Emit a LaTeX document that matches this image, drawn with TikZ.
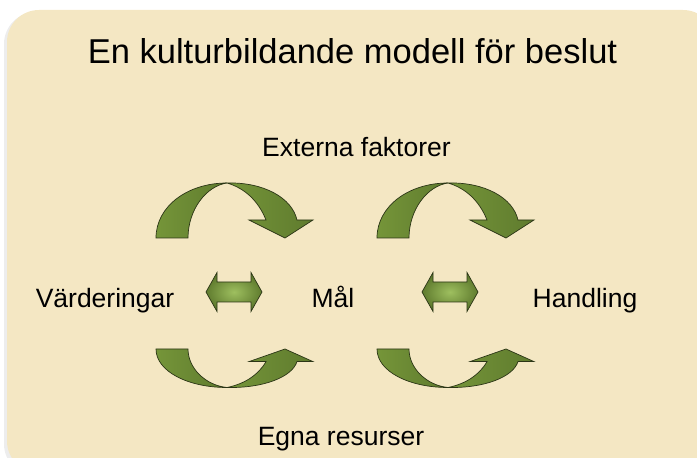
\documentclass[tikz,border=0pt]{standalone}
\usepackage{fontspec}
\setmainfont{Liberation Sans}

\definecolor{panelbg}{HTML}{F4E7C3}
\definecolor{leafdark}{HTML}{5F7B2E}
\definecolor{leafmid}{HTML}{759539}
\definecolor{leaflight}{HTML}{8DB443}
\definecolor{leafedge}{HTML}{2B3516}

\tikzset{
  label/.style={font=\fontsize{26.5}{30}\selectfont, anchor=base},
  bandleft/.style={draw=leafedge, line width=0.7pt, left color=leafmid, right color=leafdark},
  bandright/.style={draw=leafedge, line width=0.7pt, left color=leafmid, middle color=leaflight, right color=leafdark},
  linkfill/.style={draw=leafedge, line width=0.7pt, shading=radial, inner color=leaflight!85!white, outer color=leafdark},
  bendarrow/.pic={
    % back half of the bend
    \path[bandleft] (0,0) .. controls (0,32) and (32,55) .. (71,55)
        .. controls (50,52) and (32,28) .. (32,0) -- cycle;
    % front half with the head
    \path[bandright] (71,55) .. controls (108,56) and (136,40) .. (141,18)
        -- (157,18) -- (129,0) -- (93,18) -- (110,18)
        .. controls (102,38) and (88,50) .. (71,55) -- cycle;
  },
  linkarrow/.pic={
    \path[linkfill] (-28,0) -- (-17,19.5) -- (-17,10) -- (17,10) -- (17,19.5)
        -- (28,0) -- (17,-19.5) -- (17,-10) -- (-17,-10) -- (-17,-19.5) -- cycle;
  }
}

\begin{document}
\begin{tikzpicture}[x=1pt, y=1pt]
    \useasboundingbox (0,0) rectangle (697,458);

    % Panel
    \fill[black!7, rounded corners=32pt] (4,-18) rectangle (712,446);
    \fill[panelbg, rounded corners=32pt] (7,-15) rectangle (715,448);

    % Title
    \node[font=\fontsize{34.5}{40}\selectfont, anchor=base] (title) at (352.5,394) {En kulturbildande modell för beslut};

    % Labels
    \node[label] (extern) at (356.5,301) {Externa faktorer};
    \node[label] (varden) at (105,150.5) {Värderingar};
    \node[label] (mal) at (333,150.5) {Mål};
    \node[label] (handling) at (585,150.5) {Handling};
    \node[label] (resurs) at (341,12) {Egna resurser};

    % Bent arrows, top and bottom
    \pic (top1) at (156,220) {bendarrow};
    \pic (top2) at (377,220) {bendarrow};
    \pic[yscale=-0.7] (bot1) at (156,109) {bendarrow};
    \pic[yscale=-0.7] (bot2) at (377,109) {bendarrow};

    % Double arrows
    \pic (link1) at (234,166) {linkarrow};
    \pic (link2) at (450,166) {linkarrow};

\end{tikzpicture}
\end{document}
